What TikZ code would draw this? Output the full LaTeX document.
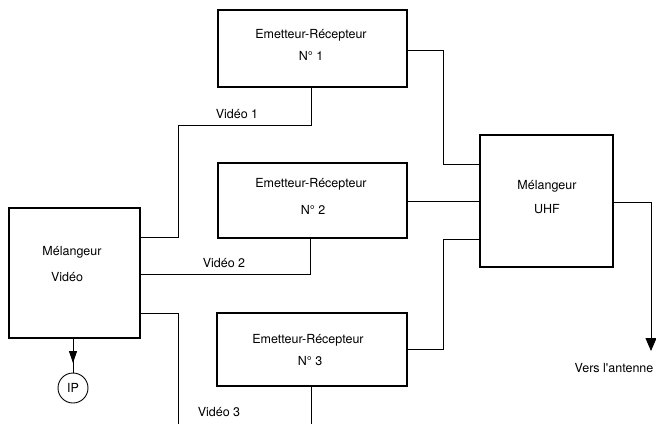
\documentclass[tikz,border=0pt]{standalone}
\usepackage{fontspec}
\setmainfont{TeX Gyre Heros}
\usetikzlibrary{arrows.meta,decorations.markings}
\begin{document}
\begin{tikzpicture}[x=1pt,y=-1pt,
  blk/.style={draw,line width=1.3pt,rectangle,inner sep=0pt},
  lbl/.style={font=\fontsize{12.5}{14}\selectfont,inner sep=0pt},
  wire/.style={line width=0.8pt},
  midarrow/.style={postaction={decorate},decoration={markings,mark=at position 0.72 with {\arrow{Triangle[length=12pt,width=8pt]}}}}]
\useasboundingbox (0,0) rectangle (656,424);
% boxes
\node[blk,minimum width=131pt,minimum height=130pt] (mv) at (74.5,273) {};
\node[blk,minimum width=189pt,minimum height=77pt] (e1) at (312.5,48.5) {};
\node[blk,minimum width=189pt,minimum height=75pt] (e2) at (312.5,200.5) {};
\node[blk,minimum width=190pt,minimum height=73pt] (e3) at (312,349.5) {};
\node[blk,minimum width=133pt,minimum height=132pt] (uhf) at (546.5,201) {};
\node[draw,circle,line width=0.9pt,minimum size=30pt,inner sep=0pt,lbl] (ip) at (73,388) {IP};
% box texts
\node[lbl] (mvt1) at (72,252) {Mélangeur};
\node[lbl] (mvt2) at (67,277) {Vidéo};
\node[lbl] (e1t1) at (311,35) {Emetteur-Récepteur};
\node[lbl] (e1t2) at (311,56) {N° 1};
\node[lbl] (e2t1) at (311,184) {Emetteur-Récepteur};
\node[lbl] (e2t2) at (313,210) {N° 2};
\node[lbl] (e3t1) at (308,340) {Emetteur-Récepteur};
\node[lbl] (e3t2) at (310,361) {N° 3};
\node[lbl] (ut1) at (547,186) {Mélangeur};
\node[lbl] (ut2) at (547,209) {UHF};
% wire labels
\node[lbl] (v1) at (237,114) {Vidéo 1};
\node[lbl] (v2) at (224,263) {Vidéo 2};
\node[lbl] (v3) at (219,412) {Vidéo 3};
\node[lbl] (ant) at (614,368) {Vers l\textquotesingle antenne};
% free ends
\coordinate (b3a) at (178,424);
\coordinate (b3b) at (311,424);
\coordinate (antend) at (651,351);
% connectors
\draw[wire] (mv.east |- 0,237) -- (178,237) |- (311,125) -- (e1.south -| 311,0);
\draw[wire] (mv.east |- 0,274) -| (e2.south -| 310,0);
\draw[wire] (mv.east |- 0,313) -| (b3a);
\draw[wire] (e3.south -| b3b) -- (b3b);
\draw[wire] (e1.east |- 0,50) -| (443,164) -- (uhf.west |- 0,164);
\draw[wire] (e2.east |- 0,201) -- (uhf.west |- 0,201);
\draw[wire] (e3.east |- 0,349) -| (443,239) -- (uhf.west |- 0,239);
\draw[wire,-{Triangle[length=13pt,width=11pt]}] (uhf.east |- 0,202) -| (antend);
\draw[wire,midarrow] (mv.south -| ip) -- (ip.north);
\end{tikzpicture}
\end{document}
